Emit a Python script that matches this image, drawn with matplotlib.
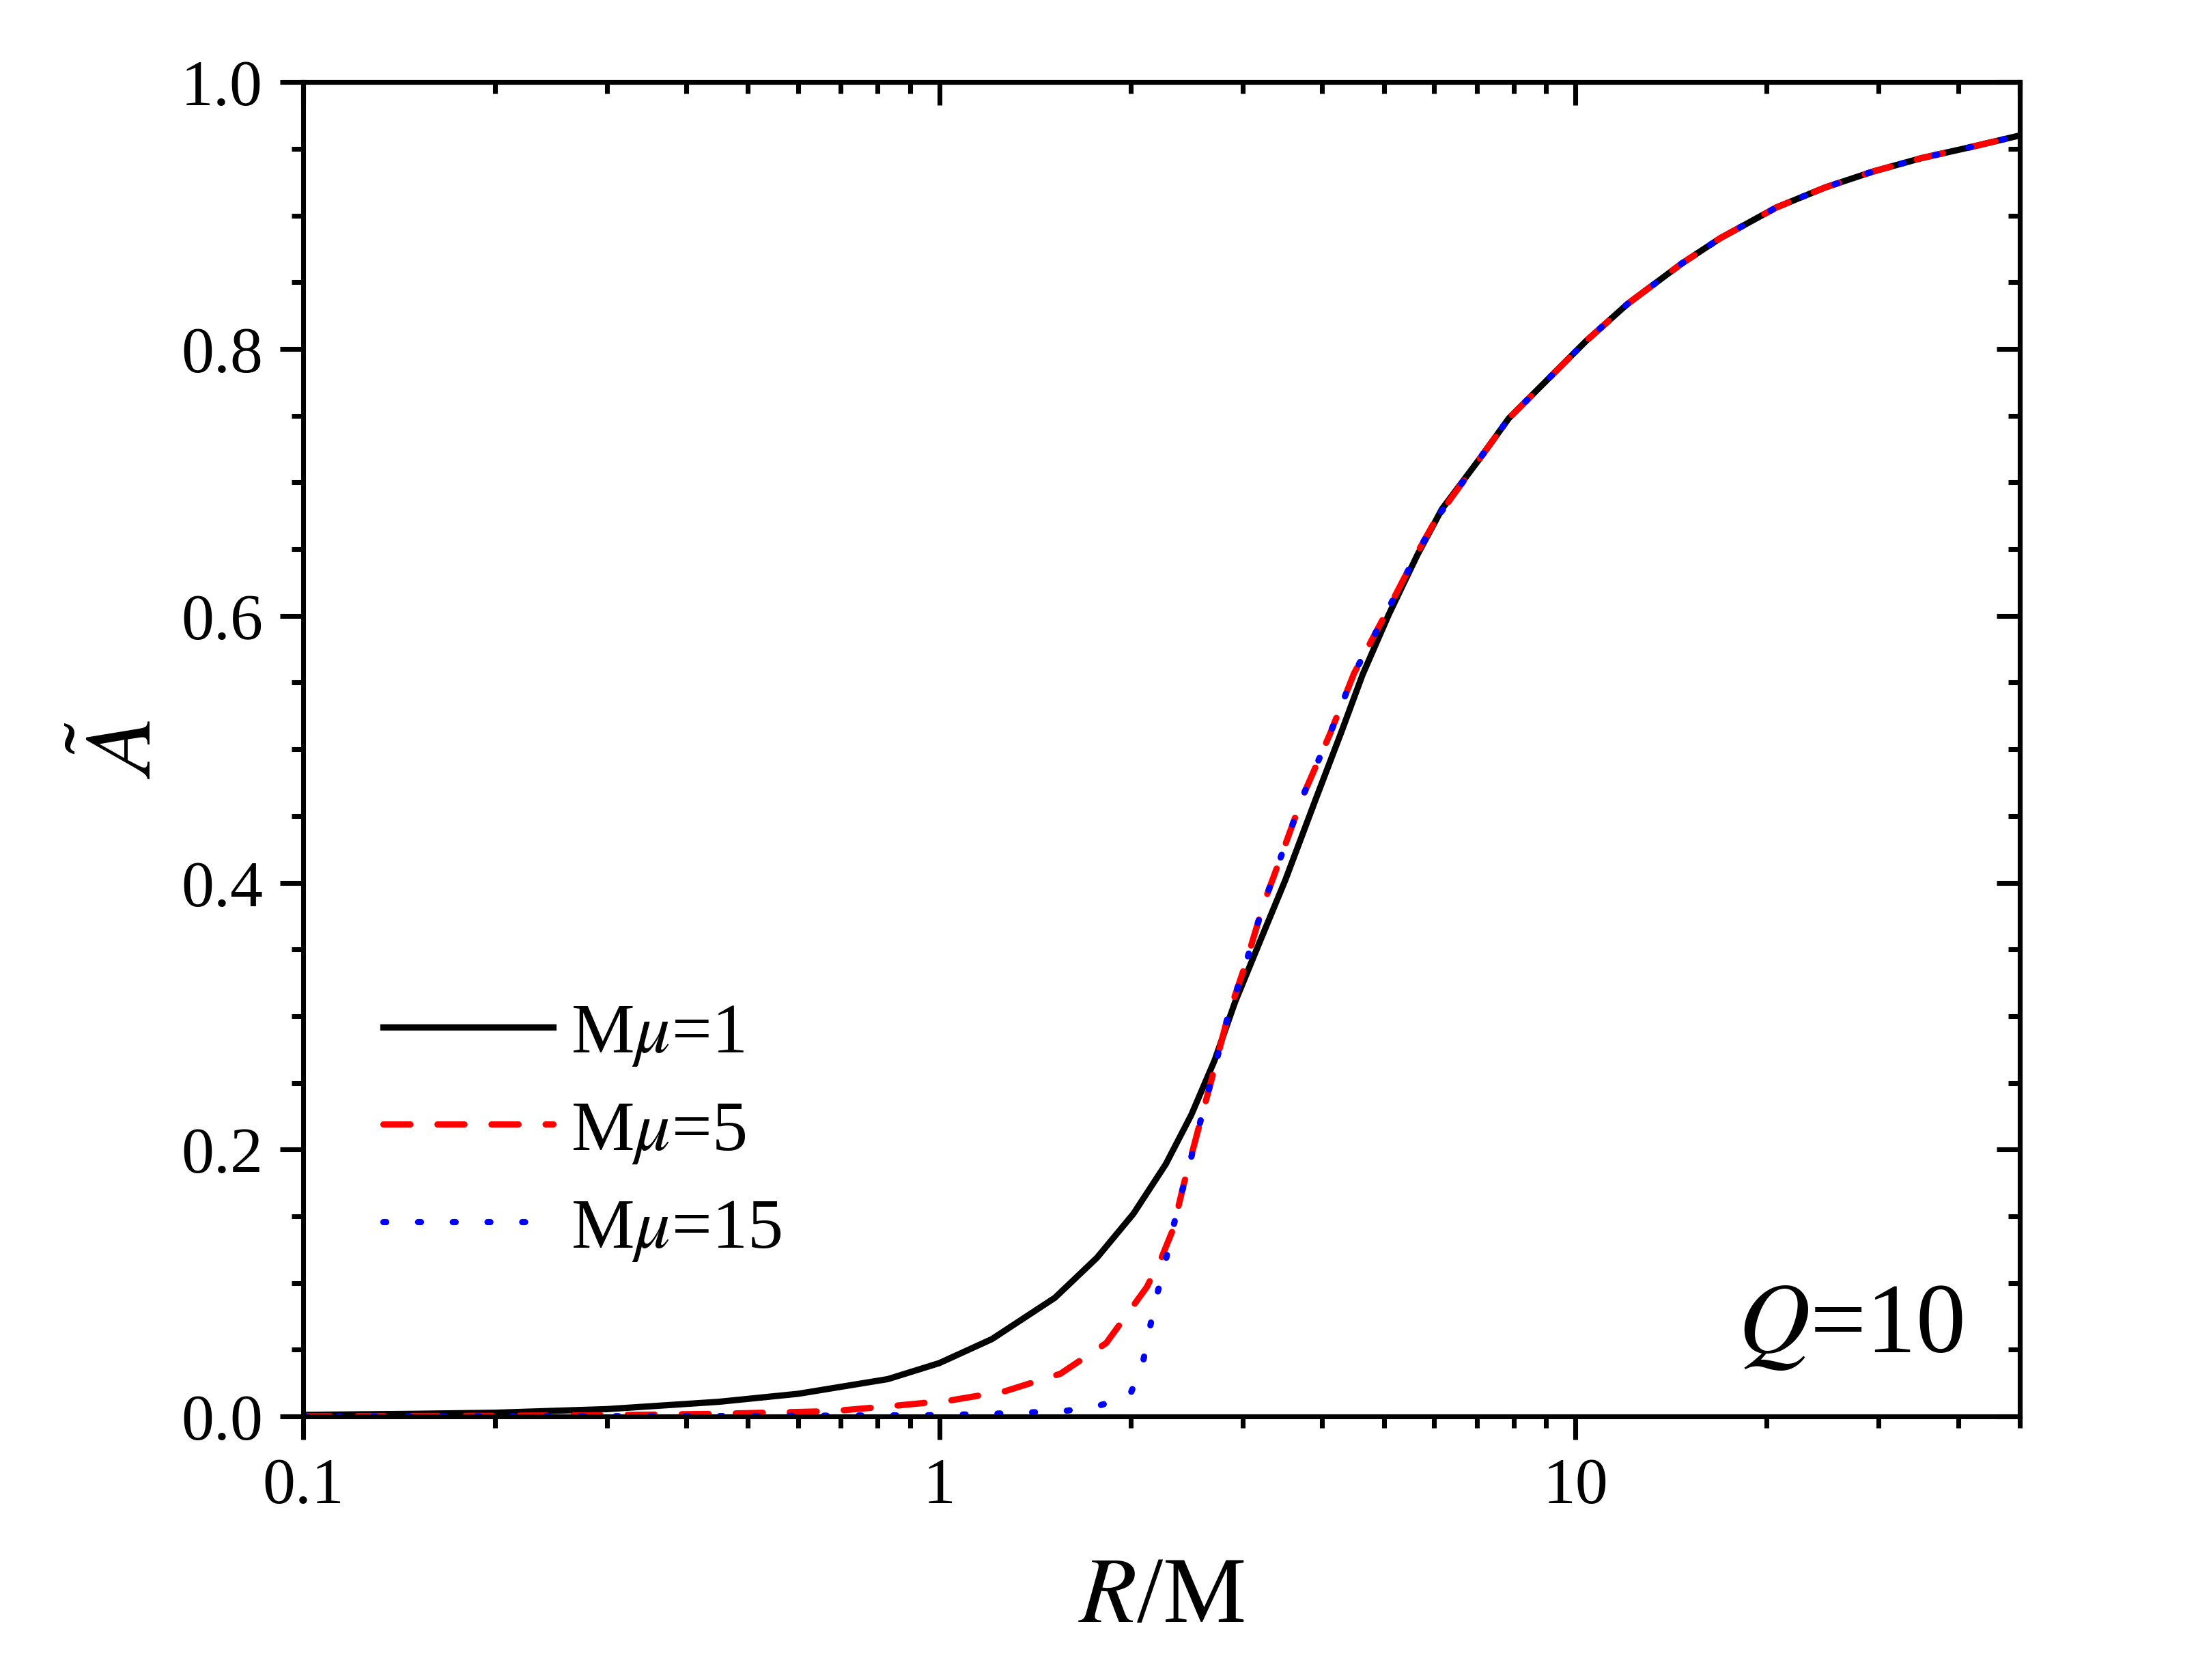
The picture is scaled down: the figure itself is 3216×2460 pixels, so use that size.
import matplotlib
matplotlib.use('Agg')
import matplotlib.pyplot as plt
import matplotlib.ticker as mticker
import numpy as np

plt.rcParams['font.family'] = ['Liberation Serif', 'DejaVu Serif']
plt.rcParams['mathtext.fontset'] = 'stix'
plt.rcParams['lines.scale_dashes'] = False

# values
r_mu1 = [0.1, 0.15, 0.2, 0.3, 0.45, 0.6, 0.83, 1.0, 1.21, 1.52, 1.77, 2.02, 2.27, 2.49,
         2.71, 2.92, 3.18, 3.5, 3.91, 4.28, 4.63, 5.09, 5.65, 6.17, 7.08, 7.86, 10.4,
         12.1, 14.7, 16.9, 20.7, 24.7, 29.4, 35.0, 41.6, 50]
a_mu1 = [0.0012, 0.002, 0.0028, 0.0055, 0.011, 0.017, 0.028, 0.040, 0.058, 0.089, 0.119,
         0.152, 0.189, 0.226, 0.267, 0.311, 0.354, 0.402, 0.463, 0.512, 0.556, 0.601,
         0.646, 0.680, 0.718, 0.748, 0.806, 0.834, 0.864, 0.883, 0.906, 0.921, 0.933,
         0.943, 0.951, 0.960]

r_mu5 = [0.1, 0.2, 0.3, 0.45, 0.68, 0.85, 1.04, 1.27, 1.55, 1.83, 2.12, 2.24, 2.33, 2.42,
         2.55, 2.685, 2.84, 3.035, 3.24, 3.40, 3.73, 4.11, 4.49, 5.04, 5.64, 6.05, 7.08,
         7.86, 10.4, 12.1, 14.7, 16.9, 20.7, 24.7, 29.4, 35.0, 41.6, 50]
a_mu5 = [0.0002, 0.0005, 0.001, 0.002, 0.004, 0.008, 0.012, 0.019, 0.032, 0.055, 0.097,
         0.120, 0.140, 0.173, 0.214, 0.254, 0.299, 0.340, 0.385, 0.412, 0.465, 0.511,
         0.557, 0.602, 0.647, 0.673, 0.718, 0.748, 0.806, 0.834, 0.864, 0.883, 0.906,
         0.921, 0.933, 0.943, 0.951, 0.960]

r_mu15 = [0.1, 0.5, 1.0, 1.21, 1.57, 1.77, 1.99, 2.087, 2.14, 2.196, 2.265, 2.33, 2.40,
          2.48, 2.55, 2.685, 2.84, 3.035, 3.24, 3.40, 3.73, 4.11, 4.49, 5.04, 5.64, 6.05,
          7.08, 7.86, 10.4, 12.1, 14.7, 16.9, 20.7, 24.7, 29.4, 35.0, 41.6, 50]
a_mu15 = [0.0, 0.0003, 0.001, 0.002, 0.004, 0.0077, 0.015, 0.039, 0.065, 0.090, 0.115,
          0.141, 0.166, 0.191, 0.214, 0.254, 0.299, 0.340, 0.385, 0.412, 0.465, 0.511,
          0.557, 0.602, 0.647, 0.673, 0.718, 0.748, 0.806, 0.834, 0.864, 0.883, 0.906,
          0.921, 0.933, 0.943, 0.951, 0.960]

labels = [r'M$\mu$=1', r'M$\mu$=5', r'M$\mu$=15']

fig = plt.figure(figsize=(10.72, 8.203), dpi=300)
ax = fig.add_axes([0.1381, 0.1568, 0.7817, 0.7940])

lw = 2.2
ax.plot(r_mu1, a_mu1, color='black', lw=lw, label=labels[0])
ax.plot(r_mu5, a_mu5, color='red', lw=lw, ls=(0, (9.5, 9.5)),
        dash_capstyle='round', label=labels[1])
ax.plot(r_mu15, a_mu15, color='blue', lw=lw, ls=(0, (1.0, 11.2)),
        dash_capstyle='round', label=labels[2])

ax.set_xscale('log')
ax.set_xlim(0.1, 50)
ax.set_ylim(0, 1.0)

ax.xaxis.set_major_locator(mticker.FixedLocator([0.1, 1, 10]))
ax.xaxis.set_major_formatter(mticker.FuncFormatter(lambda v, p: '%g' % v))
ax.xaxis.set_minor_locator(mticker.LogLocator(base=10, subs=np.arange(2, 10)))
ax.xaxis.set_minor_formatter(mticker.NullFormatter())
ax.yaxis.set_major_locator(mticker.MultipleLocator(0.2))
ax.yaxis.set_minor_locator(mticker.MultipleLocator(0.05))
ax.yaxis.set_major_formatter(mticker.FormatStrFormatter('%.1f'))

for s in ax.spines.values():
    s.set_linewidth(1.7)
ax.tick_params(which='major', direction='out', length=8.2, width=1.7, labelsize=23, pad=6)
ax.tick_params(which='minor', direction='out', length=4.0, width=1.7)

# inward ticks on top and right, no labels
top = ax.secondary_xaxis('top')
top.xaxis.set_major_locator(mticker.FixedLocator([0.1, 1, 10]))
top.xaxis.set_minor_locator(mticker.LogLocator(base=10, subs=np.arange(2, 10)))
top.tick_params(which='major', direction='in', length=8.2, width=1.7, labeltop=False)
top.tick_params(which='minor', direction='in', length=4.0, width=1.7, labeltop=False)
top.spines['top'].set_linewidth(1.7)
right = ax.secondary_yaxis('right')
right.yaxis.set_major_locator(mticker.MultipleLocator(0.2))
right.yaxis.set_minor_locator(mticker.MultipleLocator(0.05))
right.tick_params(which='major', direction='in', length=8.2, width=1.7, labelright=False)
right.tick_params(which='minor', direction='in', length=4.0, width=1.7, labelright=False)
right.spines['right'].set_linewidth(1.7)

ax.set_xlabel(r'$R$/M', fontsize=33, labelpad=14)
ax.set_ylabel(r'$\tilde{A}$', fontsize=33, labelpad=4)

ax.text(0.967, 0.0486, r'$Q$=10', transform=ax.transAxes, fontsize=35,
        ha='right', va='baseline')

ax.legend(loc='center left', bbox_to_anchor=(0.0465, 0.213), frameon=False,
          fontsize=25, handlelength=2.39, handletextpad=0.25, labelspacing=0.45,
          borderpad=0, borderaxespad=0)

fig.savefig('out.png', dpi=300)
